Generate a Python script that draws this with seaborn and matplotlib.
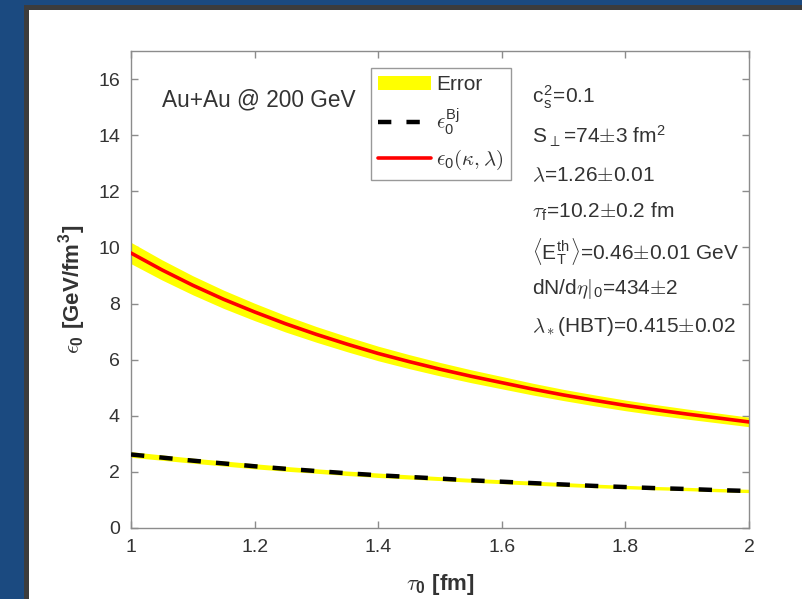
import matplotlib
matplotlib.use('Agg')
import matplotlib.pyplot as plt
import seaborn as sns
import pandas as pd
from matplotlib.patches import Rectangle, Patch
from matplotlib.lines import Line2D

# 数据
tau0 = [1.0, 1.05, 1.1, 1.15, 1.2, 1.25, 1.3, 1.35, 1.4, 1.45, 1.5,
        1.55, 1.6, 1.65, 1.7, 1.75, 1.8, 1.85, 1.9, 1.95, 2.0]
eps_kl = [9.80, 9.20, 8.65, 8.15, 7.70, 7.28, 6.90, 6.55, 6.22, 5.93, 5.66,
          5.41, 5.18, 4.95, 4.74, 4.55, 4.37, 4.21, 4.06, 3.92, 3.78]
eps_kl_err = [0.38, 0.36, 0.34, 0.325, 0.31, 0.295, 0.28, 0.27, 0.26, 0.25, 0.24,
              0.23, 0.22, 0.21, 0.20, 0.195, 0.19, 0.185, 0.18, 0.175, 0.17]
eps_bj = [2.62, 2.51, 2.40, 2.30, 2.20, 2.11, 2.03, 1.95, 1.88, 1.82, 1.76,
          1.70, 1.65, 1.60, 1.55, 1.50, 1.46, 1.42, 1.39, 1.35, 1.32]
eps_bj_err = [0.10, 0.095, 0.09, 0.09, 0.09, 0.085, 0.08, 0.08, 0.08, 0.075, 0.07,
              0.07, 0.07, 0.07, 0.07, 0.065, 0.06, 0.06, 0.06, 0.06, 0.06]

xticks = [1, 1.2, 1.4, 1.6, 1.8, 2]
xticklabels = ['1', '1.2', '1.4', '1.6', '1.8', '2']
yticks = [0, 2, 4, 6, 8, 10, 12, 14, 16]

params_text = [
    r'c$_\mathregular{s}^\mathregular{2}$=0.1',
    r'S$_\perp$=74$\pm$3 fm$^\mathregular{2}$',
    r'$\lambda$=1.26$\pm$0.01',
    r'$\tau_\mathregular{f}$=10.2$\pm$0.2 fm',
    r'$\langle\mathregular{E}_\mathregular{T}^\mathregular{th}\rangle$=0.46$\pm$0.01 GeV',
    r'dN/d$\eta|_\mathregular{0}$=434$\pm$2',
    r'$\lambda_*$(HBT)=0.415$\pm$0.02',
]
params_y = [0.889, 0.807, 0.726, 0.650, 0.564, 0.491, 0.411]

df = pd.DataFrame({'tau0': tau0, 'kl': eps_kl, 'kl_err': eps_kl_err,
                   'bj': eps_bj, 'bj_err': eps_bj_err})

sns.set_style('ticks')
plt.rcParams['font.family'] = ['Liberation Sans', 'DejaVu Sans']
plt.rcParams['mathtext.fontset'] = 'cm'
plt.rcParams['font.size'] = 14

GRAY = '#8c8c8c'
TXT = '#333333'
YELLOW = '#ffff00'

fig = plt.figure(figsize=(8.03, 5.99), dpi=100, facecolor='#1b4a80')
W, H = 803, 599
fig.add_artist(Rectangle((24 / W, 0), 1, (H - 5) / H, transform=fig.transFigure,
                         facecolor='#3c3c3c', edgecolor='none', zorder=-2))
fig.add_artist(Rectangle((29 / W, 0), 1, (H - 10) / H, transform=fig.transFigure,
                         facecolor='white', edgecolor='none', zorder=-1))

ax = fig.add_axes([131 / W, (H - 528) / H, (749 - 131) / W, (528 - 51) / H])
ax.set_facecolor('white')

# error bands
ax.fill_between(df['tau0'], df['kl'] - df['kl_err'], df['kl'] + df['kl_err'],
                color=YELLOW, lw=0, zorder=1)
ax.fill_between(df['tau0'], df['bj'] - df['bj_err'], df['bj'] + df['bj_err'],
                color=YELLOW, lw=0, zorder=1)

sns.lineplot(data=df, x='tau0', y='bj', ax=ax, color='black', lw=3.2, zorder=3)
ax.lines[-1].set_dashes([3.0, 3.4])
sns.lineplot(data=df, x='tau0', y='kl', ax=ax, color='#ff0000', lw=2.6, zorder=3)

ax.set_xlim(1, 2)
ax.set_ylim(0, 17)
ax.set_xticks(xticks)
ax.set_xticklabels(xticklabels)
ax.set_yticks(yticks)
ax.tick_params(direction='in', top=True, right=True, length=5, width=1,
               color=GRAY, labelcolor=TXT, labelsize=14, pad=8)
for s in ax.spines.values():
    s.set_color(GRAY)
    s.set_linewidth(1)

ax.set_xlabel(r'$\tau_\mathregular{0}$ [fm]', fontsize=16, fontweight='bold', color=TXT)
ax.set_ylabel(r'$\epsilon_\mathregular{0}$ [GeV/fm$^\mathregular{3}$]', fontsize=16,
              fontweight='bold', color=TXT)
ax.xaxis.set_label_coords(0.5, -0.093)
ax.yaxis.set_label_coords(-0.068, 0.5)

ax.text(0.05, 0.883, 'Au+Au @ 200 GeV', transform=ax.transAxes, fontsize=16.3,
        color=TXT, va='baseline')
for s, yy in zip(params_text, params_y):
    ax.text(0.649, yy, s, transform=ax.transAxes, fontsize=15, color=TXT, va='baseline')

handles = [
    Patch(facecolor=YELLOW, edgecolor='none', label='Error'),
    Line2D([0], [0], color='black', lw=3.2, dashes=[3.0, 3.4],
           label=r'$\epsilon_\mathregular{0}^\mathregular{Bj}$'),
    Line2D([0], [0], color='#ff0000', lw=2.6,
           label=r'$\epsilon_\mathregular{0}(\kappa,\lambda)$'),
]
leg = ax.legend(handles=handles, loc='upper left', bbox_to_anchor=(0.388, 0.964),
                borderaxespad=0, fancybox=False, framealpha=1, edgecolor='#999999',
                fontsize=15, handlelength=2.55, handletextpad=0.25, borderpad=0.35,
                labelspacing=0.55)
leg.get_frame().set_linewidth(1)
for t in leg.get_texts():
    t.set_color(TXT)

fig.savefig('out.png', dpi=100, facecolor=fig.get_facecolor())
